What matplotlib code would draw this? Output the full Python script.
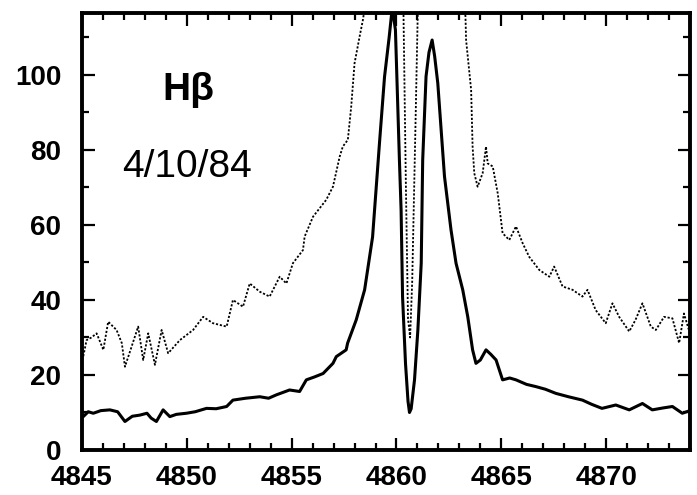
"""
plot.py -- H-beta line profile, 4/10/84 (solid + dotted spectra)
"""

import matplotlib
matplotlib.use("Agg")
import matplotlib.pyplot as plt
from matplotlib.ticker import MultipleLocator


# ---------------------------------------------------------------------------
# Data
# ---------------------------------------------------------------------------

solid_wave = [
    4845.0, 4845.06, 4845.3, 4845.54, 4845.9, 4846.33, 4846.7, 4847.05,
    4847.4, 4847.76, 4848.1, 4848.3, 4848.55, 4848.87, 4849.19, 4849.5,
    4849.98, 4850.4, 4850.94, 4851.4, 4851.9, 4852.2, 4852.8, 4853.48,
    4853.9, 4854.27, 4854.9, 4855.38, 4855.7, 4856.1, 4856.5, 4856.97,
    4857.13, 4857.6, 4857.67, 4858.08, 4858.48, 4858.86, 4859.19, 4859.43,
    4859.65, 4859.8, 4859.95, 4860.14, 4860.22, 4860.29, 4860.43, 4860.55,
    4860.62, 4860.7, 4860.86, 4861.02, 4861.18, 4861.25, 4861.41, 4861.55,
    4861.7, 4861.82, 4861.97, 4862.29, 4862.6, 4862.84, 4863.16, 4863.4,
    4863.63, 4863.79, 4864.0, 4864.27, 4864.5, 4864.75, 4865.06, 4865.4,
    4865.7, 4866.2, 4866.65, 4867.1, 4867.6, 4868.2, 4868.87, 4869.3,
    4869.8, 4870.46, 4871.1, 4871.73, 4872.2, 4872.7, 4873.16, 4873.63,
    4874.0,
]
solid_flux = [
    9.5, 8.9, 10.2, 9.8, 10.5, 10.7, 10.2, 7.6,
    9.0, 9.3, 9.8, 8.5, 7.6, 10.7, 8.9, 9.5,
    9.8, 10.2, 11.1, 11.0, 11.6, 13.3, 13.8, 14.2,
    13.8, 14.7, 16.0, 15.6, 18.7, 19.5, 20.4, 23.1,
    24.9, 26.7, 28.5, 34.7, 42.7, 56.8, 81.9, 99.5,
    110.0, 118.0, 112.0, 77.3, 64.0, 40.8, 23.1, 13.0,
    10.0, 11.0, 18.7, 32.0, 49.8, 77.3, 99.6, 106.0,
    109.3, 105.0, 97.8, 72.9, 58.7, 49.8, 42.7, 35.5,
    26.7, 23.1, 24.0, 26.7, 25.5, 24.0, 18.7, 19.2,
    18.7, 17.5, 16.9, 16.2, 15.1, 14.2, 13.3, 12.2,
    11.1, 12.0, 10.7, 12.4, 10.7, 11.2, 11.6, 9.8,
    10.5,
]

dotted_wave = [
    4845.0, 4845.06, 4845.22, 4845.45, 4845.7, 4846.02, 4846.25, 4846.65,
    4846.9, 4847.05, 4847.37, 4847.68, 4847.92, 4848.16, 4848.48, 4848.8,
    4849.11, 4849.67, 4850.3, 4850.78, 4851.25, 4851.9, 4852.2, 4852.68,
    4853.0, 4853.48, 4853.95, 4854.43, 4854.75, 4855.06, 4855.54, 4855.62,
    4856.02, 4856.65, 4856.97, 4857.29, 4857.44, 4857.68, 4857.84, 4858.0,
    4858.24, 4858.4, 4858.6, 4859.0, 4859.6, 4860.1, 4860.33, 4860.45,
    4860.55, 4860.65, 4860.75, 4860.9, 4861.02, 4861.3, 4862.0, 4862.8,
    4863.2, 4863.29, 4863.32, 4863.56, 4863.63, 4863.71, 4863.87, 4864.11,
    4864.27, 4864.35, 4864.59, 4864.83, 4865.06, 4865.38, 4865.7, 4866.02,
    4866.33, 4866.81, 4867.29, 4867.52, 4867.92, 4868.4, 4868.87, 4869.11,
    4869.5, 4869.98, 4870.3, 4870.62, 4871.1, 4871.4, 4871.73, 4872.13,
    4872.37, 4872.76, 4873.16, 4873.48, 4873.71, 4874.0,
]
dotted_flux = [
    24.0, 24.9, 29.3, 30.0, 31.1, 26.7, 34.2, 32.0,
    28.5, 22.2, 27.6, 32.9, 24.0, 31.1, 22.7, 32.0,
    25.8, 29.3, 32.0, 35.5, 33.8, 32.9, 40.0, 38.2,
    44.4, 42.2, 40.9, 46.2, 44.4, 49.8, 53.3, 56.9,
    62.2, 66.7, 70.2, 78.2, 80.9, 82.7, 91.5, 103.1,
    110.2, 114.7, 122.0, 140.0, 160.0, 150.0, 118.0, 70.0,
    35.0, 30.0, 45.0, 85.0, 118.0, 150.0, 165.0, 140.0,
    120.0, 115.6, 109.3, 96.0, 80.9, 73.8, 70.2, 73.8,
    80.9, 76.4, 75.6, 68.4, 57.8, 56.0, 59.6, 55.1,
    51.5, 48.0, 46.2, 48.9, 43.6, 42.7, 40.9, 42.7,
    37.3, 33.8, 39.1, 35.5, 31.6, 34.7, 39.1, 32.9,
    32.0, 35.5, 35.1, 28.5, 36.4, 31.0,
]

x_ticks = [4845, 4850, 4855, 4860, 4865, 4870]
y_ticks = [0, 20, 40, 60, 80, 100]


# ---------------------------------------------------------------------------
# Plotting
# ---------------------------------------------------------------------------

def plot_profile(output_path: str) -> None:
    """Draw both spectra in the boxed, inward-tick style of the original."""
    plt.rcParams["font.family"] = ["Liberation Sans", "DejaVu Sans"]

    fig = plt.figure(figsize=(6.97, 4.95), dpi=100)
    ax = fig.add_axes([0.1176, 0.0909, 0.8724, 0.8828])

    ax.plot(dotted_wave, dotted_flux, color="black", linewidth=1.3,
            linestyle=(0, (1.2, 1.0)))
    ax.plot(solid_wave, solid_flux, color="black", linewidth=2.2)

    ax.set_xlim(4845, 4874)
    ax.set_ylim(0, 116.5)

    ax.set_xticks(x_ticks)
    ax.set_yticks(y_ticks)
    ax.xaxis.set_minor_locator(MultipleLocator(1))
    ax.yaxis.set_minor_locator(MultipleLocator(10))

    ax.tick_params(which="both", direction="in", top=True, right=True,
                   width=1.6, labelsize=20)
    ax.tick_params(which="major", length=9)
    ax.tick_params(which="minor", length=5)
    ax.tick_params(axis="x", pad=11)
    ax.tick_params(axis="y", pad=15)
    for lab in ax.get_xticklabels() + ax.get_yticklabels():
        lab.set_fontweight("bold")

    for spine in ax.spines.values():
        spine.set_linewidth(2.8)

    ax.text(0.175, 0.80, "H\u03b2", transform=ax.transAxes,
            fontsize=28, fontweight="bold", ha="center", va="baseline")
    ax.text(0.172, 0.625, "4/10/84", transform=ax.transAxes,
            fontsize=28, ha="center", va="baseline")

    fig.savefig(output_path, dpi=100)
    plt.close(fig)


if __name__ == "__main__":
    plot_profile("out.png")
